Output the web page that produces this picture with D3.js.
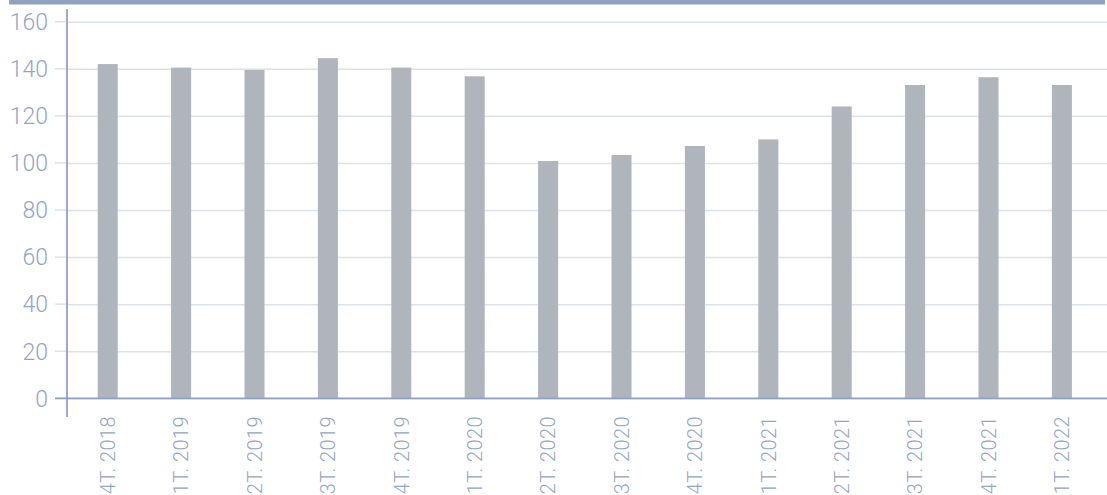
<!DOCTYPE html>
<html>
<head>
<meta charset="utf-8">
<script src="https://cdn.jsdelivr.net/npm/d3@7"></script>
<style>
	body { margin: 0; background: #fff; }
	svg { display: block; font-family: Roboto, "Noto Sans", sans-serif; }
</style>
</head>
<body>
<svg id="chart" width="1107" height="495"></svg>
<script>
const quarters = ["4T. 2018", "1T. 2019", "2T. 2019", "3T. 2019", "4T. 2019", "1T. 2020", "2T. 2020",
	"3T. 2020", "4T. 2020", "1T. 2021", "2T. 2021", "3T. 2021", "4T. 2021", "1T. 2022"];
const values = [142, 140.5, 139.5, 144.5, 140.5, 136.8, 100.8, 103.4, 107.2, 110, 124, 133.1, 136.4, 133.1];
const yTicks = [0, 20, 40, 60, 80, 100, 120, 140, 160];

const width = 1107,
	height = 495,
	margin = { top: 21.7, bottom: 96.7, left: 67 },
	textColor = "#93a5c6",
	axisColor = "#8fa2c2";

const svg = d3.select("#chart");

// header strip
svg.append("rect")
	.attr("x", 9)
	.attr("y", 0)
	.attr("width", 1096)
	.attr("height", 4.5)
	.attr("fill", "#8fa3c0");

const xScale = d3
	.scaleBand()
	.domain(quarters)
	.range([71, 1098.6])
	.paddingInner(0.727)
	.paddingOuter(0.3635);

const yScale = d3
	.scaleLinear()
	.domain([0, 160])
	.range([height - margin.bottom, margin.top]);

// grid
svg.append("g")
	.attr("transform", `translate(${margin.left},0)`)
	.call(d3.axisLeft(yScale).tickValues(yTicks).tickSize(-(width - margin.left)).tickFormat(""))
	.call((g) => g.select(".domain").remove())
	.selectAll(".tick line")
	.attr("stroke", "#dce2ec")
	.attr("stroke-width", 1.5);

// short tick stubs left of the axis
svg.append("g")
	.selectAll("line")
	.data(yTicks)
	.join("line")
	.attr("x1", 55)
	.attr("x2", margin.left)
	.attr("y1", (d) => yScale(d))
	.attr("y2", (d) => yScale(d))
	.attr("stroke", "#dce2ec")
	.attr("stroke-width", 1.5);

// bars
svg.append("g")
	.selectAll("rect")
	.data(values)
	.join("rect")
	.attr("x", (d, i) => xScale(quarters[i]))
	.attr("y", (d) => yScale(d))
	.attr("width", xScale.bandwidth())
	.attr("height", (d) => yScale(0) - yScale(d))
	.attr("fill", "#b0b5bc");

// y labels
svg.append("g")
	.selectAll("text")
	.data(yTicks)
	.join("text")
	.attr("x", 48)
	.attr("y", (d) => yScale(d))
	.attr("dy", "0.36em")
	.attr("text-anchor", "end")
	.attr("font-size", 23)
	.attr("font-weight", 300)
	.attr("fill", textColor)
	.text((d) => d);

// x axis line
svg.append("line")
	.attr("x1", 55)
	.attr("x2", width)
	.attr("y1", yScale(0))
	.attr("y2", yScale(0))
	.attr("stroke", axisColor)
	.attr("stroke-width", 1.8);

// y axis line
svg.append("line")
	.attr("x1", margin.left)
	.attr("x2", margin.left)
	.attr("y1", 9)
	.attr("y2", 417)
	.attr("stroke", axisColor)
	.attr("stroke-width", 1.8);

// x labels, rotated
svg.append("g")
	.selectAll("text")
	.data(quarters)
	.join("text")
	.attr("transform", (d) => `translate(${xScale(d) + xScale.bandwidth() / 2},416) rotate(-90)`)
	.attr("dy", "0.36em")
	.attr("text-anchor", "end")
	.attr("font-size", 20)
	.attr("letter-spacing", 0.4)
	.attr("font-weight", 300)
	.attr("fill", textColor)
	.text((d) => d);
</script>
</body>
</html>
